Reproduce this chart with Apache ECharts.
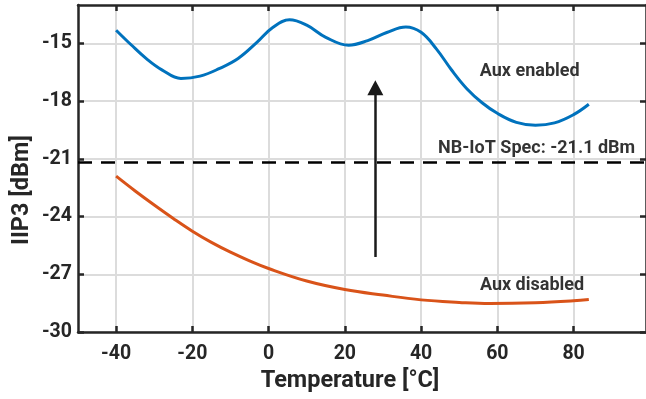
<!DOCTYPE html>
<html><head><meta charset="utf-8">
<script src="https://cdn.jsdelivr.net/npm/echarts@6/dist/echarts.min.js"></script>
<style>html,body{margin:0;padding:0;background:#fff}#c{width:646px;height:399px}</style>
</head><body><div id="c"></div>
<script>
// ---- data ----
const xTicks = [-40, -20, 0, 20, 40, 60, 80];
const yTicks = [-30, -27, -24, -21, -18, -15];
const xRange = [-50, 99];
const yRange = [-30, -13];

const enabledTemp = [-40, -36, -32, -28, -23, -18, -13, -8, -3, 1, 5.5, 10, 15, 21, 26, 31, 36, 40, 44, 48, 52, 56, 60, 65, 70, 75, 80, 84];
const enabledIIP3 = [-14.31, -15.08, -15.80, -16.37, -16.82, -16.70, -16.31, -15.78, -14.93, -14.18, -13.77, -14.05, -14.68, -15.09, -14.85, -14.43, -14.14, -14.42, -15.28, -16.38, -17.35, -18.08, -18.63, -19.10, -19.25, -19.13, -18.70, -18.16];

const disabledTemp = [-40, -35, -30, -25, -20, -15, -10, -5, 0, 10, 20, 30, 40, 50, 58, 70, 80, 84];
const disabledIIP3 = [-21.90, -22.67, -23.40, -24.10, -24.76, -25.34, -25.85, -26.30, -26.70, -27.35, -27.79, -28.08, -28.33, -28.46, -28.52, -28.48, -28.38, -28.31];

const specLevel = -21.2;
const arrowFrom = [28, -26.1];
const arrowTo = [28, -17.3];

const annotations = [
  [68.5, -16.44, 'Aux enabled'],
  [70.3, -20.44, 'NB-IoT Spec: -21.1 dBm'],
  [69.1, -27.6, 'Aux disabled']
];

// ---- chart ----
const FONT = "Roboto, 'Liberation Sans', sans-serif";
const AX = '#262626';
const GRID = '#dcdcdc';

const chart = echarts.init(document.getElementById('c'), null, {renderer: 'canvas'});

function xAxisDef(pos, showLabels) {
  return {
    type: 'value', position: pos, min: xRange[0], max: xRange[1],
    axisLine: {show: true, onZero: false, lineStyle: {color: AX, width: 2.5}},
    axisTick: {show: true, inside: true, length: 6, lineStyle: {color: AX, width: 2.5}, customValues: xTicks},
    axisLabel: {show: showLabels, customValues: xTicks, color: AX, fontFamily: FONT, fontWeight: 'bold', fontSize: 19.5, margin: 12},
    splitLine: {show: showLabels, lineStyle: {color: GRID, width: 2}}
  };
}
function yAxisDef(pos, showLabels) {
  return {
    type: 'value', position: pos, min: yRange[0], max: yRange[1],
    axisLine: {show: true, onZero: false, lineStyle: {color: AX, width: 2.5}},
    axisTick: {show: true, inside: true, length: 6, lineStyle: {color: AX, width: 2.5}, customValues: yTicks},
    axisLabel: {show: showLabels, customValues: yTicks, color: AX, fontFamily: FONT, fontWeight: 'bold', fontSize: 19.5, margin: 6},
    splitLine: {show: showLabels, lineStyle: {color: GRID, width: 2}}
  };
}

const option = {
  animation: false,
  backgroundColor: '#fff',
  grid: {left: 78, top: 5, right: -2, bottom: 67, containLabel: false},
  xAxis: [xAxisDef('bottom', true), xAxisDef('top', false)],
  yAxis: [yAxisDef('left', true), yAxisDef('right', false)],
  graphic: [
    {type: 'text', position: [350, 381], style: {text: 'Temperature [°C]', font: "bold 23.5px " + FONT, fill: AX, textAlign: 'center', textVerticalAlign: 'middle'}},
    {type: 'text', rotation: Math.PI / 2, position: [22, 190], style: {text: 'IIP3 [dBm]', font: "bold 23.5px " + FONT, fill: AX, textAlign: 'center', textVerticalAlign: 'middle'}}
  ],
  series: [
    {
      type: 'line', name: 'Aux enabled', data: enabledTemp.map((t, i) => [t, enabledIIP3[i]]),
      smooth: 0.4, showSymbol: false, symbol: 'none',
      lineStyle: {color: '#0072BD', width: 3}, z: 5
    },
    {
      type: 'line', name: 'Aux disabled', data: disabledTemp.map((t, i) => [t, disabledIIP3[i]]),
      smooth: 0.4, showSymbol: false, symbol: 'none',
      lineStyle: {color: '#D95319', width: 3}, z: 5,
      markLine: {
        silent: true, symbol: ['none', 'none'], label: {show: false},
        lineStyle: {color: '#000', width: 2.5, type: [14, 9]},
        data: [{yAxis: specLevel}]
      }
    },
    {
      type: 'line', data: [], z: 6,
      markLine: {
        silent: true, symbol: ['none', 'triangle'], symbolSize: [16, 15], label: {show: false},
        lineStyle: {color: '#1a1a1a', width: 2.5, type: 'solid'},
        data: [[{coord: arrowFrom}, {coord: arrowTo}]]
      }
    },
    {
      type: 'scatter', data: annotations, symbolSize: 0, z: 7,
      label: {show: true, position: 'inside', formatter: p => p.data[2], color: '#000', textBorderWidth: 0, fontFamily: FONT, fontWeight: 'bold', fontSize: 18}
    }
  ]
};
chart.setOption(option);
</script>
</body></html>
